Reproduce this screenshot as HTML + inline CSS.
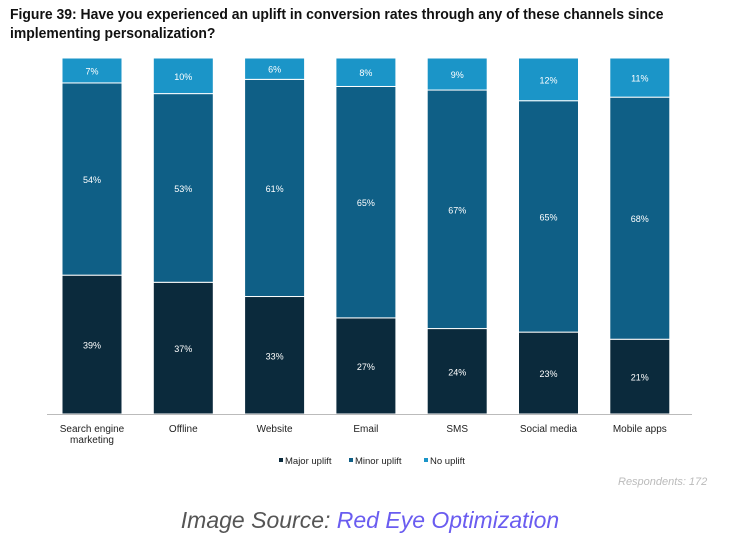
<!DOCTYPE html>
<html><head><meta charset="utf-8"><style>
body{margin:0;width:740px;height:540px;background:#fff;font-family:"Liberation Sans",sans-serif;overflow:hidden;position:relative}
#title{position:absolute;left:10px;top:5px;font-size:15px;font-weight:bold;color:#111;line-height:19px;width:720px;transform:scaleX(0.93);transform-origin:left}
#resp{position:absolute;left:618px;top:476px;font-size:11px;color:#bbb;font-style:italic}
#src{position:absolute;left:0;width:740px;text-align:center;top:507px;font-size:23px;font-style:italic;color:#555}
#src span{color:#6a5cf0}
</style></head><body>
<div id="title">Figure 39: Have you experienced an uplift in conversion rates through any of these channels since implementing personalization?</div>
<svg id="chart" width="740" height="540" style="position:absolute;left:0;top:0"></svg>
<div id="resp">Respondents: 172</div>
<div id="src">Image Source: <span>Red Eye Optimization</span></div>
<script>
const categories=[["Search engine","marketing"],["Offline"],["Website"],["Email"],["SMS"],["Social media"],["Mobile apps"]];
const major=[39,37,33,27,24,23,21];
const minor=[54,53,61,65,67,65,68];
const noUplift=[7,10,6,8,9,12,11];
const seriesNames=["Major uplift","Minor uplift","No uplift"];
const colors=["#0b2a3c","#0f5f86","#1b95c8"];
const svg=document.getElementById('chart');
const NS="http://www.w3.org/2000/svg";
const y0=414,y1=58,x0=62,step=91.3,bw=60;
function ys(v){return (y0-y1)*v/100;}
function xs(i){return x0+i*step;}
function mk(t,a){const e=document.createElementNS(NS,t);for(const k in a)e.setAttribute(k,a[k]);svg.appendChild(e);return e;}
const series=[major,minor,noUplift];
categories.forEach((c,i)=>{
 let base=y0;
 series.forEach((s,j)=>{
  const h=ys(s[i]);
  const r=mk('rect',{x:xs(i),y:base-h,width:bw,height:h,fill:colors[j],stroke:'#fff','stroke-width':1});
  
  
  const t=mk('text',{x:xs(i)+bw/2,y:base-h/2+4,'text-anchor':'middle','font-size':9,fill:'#fff'});
  t.textContent=s[i]+'%';
  
  
  base-=h;
 });
 c.forEach((line,k)=>{
  const t=mk('text',{x:xs(i)+bw/2,y:432+k*11,'text-anchor':'middle','font-size':10,fill:'#222'});
  t.textContent=line;
  
  
 });
});
const ax=mk('line',{x1:47,x2:692,y1:y0+0.5,y2:y0+0.5,stroke:'#bbb','stroke-width':1});


const lx=[279,349,424];
seriesNames.forEach((n,j)=>{
 const r=mk('rect',{x:lx[j],y:458,width:4,height:4,fill:colors[j]});
 
 
 const t=mk('text',{x:lx[j]+6,y:464,'font-size':9.5,fill:'#222'});
 t.textContent=n;
 
 
});
</script>
</body></html>
